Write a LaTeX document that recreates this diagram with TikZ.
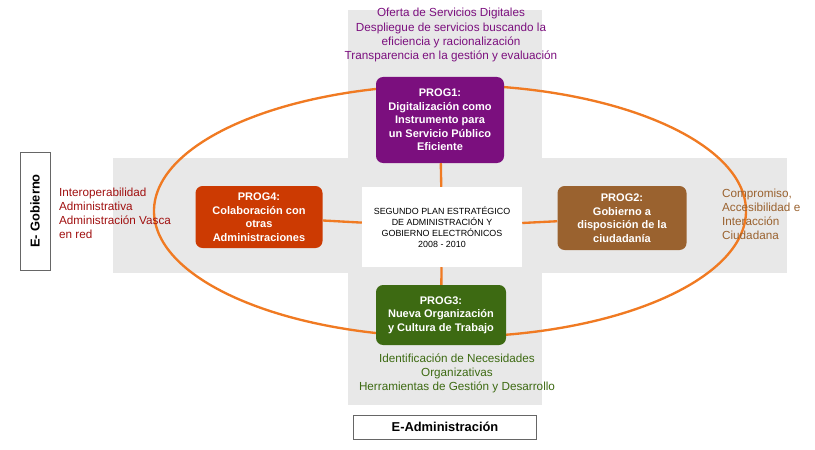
\documentclass[tikz,border=0pt]{standalone}
\usepackage{fontspec}
\setmainfont{Liberation Sans}
\usetikzlibrary{positioning}
\definecolor{prpl}{HTML}{7B0F7E}
\definecolor{brwn}{HTML}{9A622F}
\definecolor{grn}{HTML}{3D6A12}
\definecolor{rdor}{HTML}{CC3A02}
\definecolor{orng}{HTML}{F07A22}
\definecolor{band}{HTML}{E8E8E8}
\definecolor{dred}{HTML}{A01010}
\begin{document}
\begin{tikzpicture}[x=0.03cm, y=-0.03cm,
    prog/.style={rectangle, rounded corners=6pt, text=white, font=\fontsize{9.4}{11.5}\selectfont\bfseries,
      align=center, inner sep=2pt},
    note/.style={font=\fontsize{10}{12}\selectfont, align=center},
    tag/.style={draw=gray!80!black, fill=white, font=\fontsize{11}{13}\selectfont\bfseries, inner sep=2pt},
    link/.style={draw=orng, line width=2pt}]
  \useasboundingbox (0,0) rectangle (815,449);

  % gray cross
  \fill[band] (348,10) rectangle (542,405);
  \fill[band] (113,158) rectangle (787,273);

  % ellipse
  \draw[link] (450,211) ellipse [x radius=296, y radius=126];

  % center
  \node (plan) [fill=white, minimum width=4.8cm, minimum height=2.4cm, align=center,
    font=\fontsize{7.6}{9.5}\selectfont] at (442,227)
    {SEGUNDO PLAN ESTRATÉGICO\\DE ADMINISTRACIÓN Y\\GOBIERNO ELECTRÓNICOS\\2008 - 2010};

  % programmes
  \node (p1) [prog, fill=prpl, minimum width=3.84cm, minimum height=2.58cm] at (440,120)
    {PROG1:\\Digitalización como\\Instrumento para\\un Servicio Público\\Eficiente};
  \node (p2) [prog, fill=brwn, minimum width=3.87cm, minimum height=1.92cm] at (622,218)
    {PROG2:\\Gobierno a\\disposición de la\\ciudadanía};
  \node (p3) [prog, fill=grn, minimum width=3.9cm, minimum height=1.8cm] at (441,315)
    {PROG3:\\Nueva Organización\\y Cultura de Trabajo};
  \node (p4) [prog, fill=rdor, minimum width=3.81cm, minimum height=1.86cm] at (259,217)
    {PROG4:\\Colaboración con\\otras\\Administraciones};

  % links
  \draw[link] (plan) -- (p1);
  \draw[link] (plan) -- (p2);
  \draw[link] (plan) -- (p3);
  \draw[link] (plan) -- (p4);

  % notes
  \node (n1) [note, text=prpl] at (451,35)
    {Oferta de Servicios Digitales\\Despliegue de servicios buscando la\\eficiencia y racionalización\\Transparencia en la gestión y evaluación};
  \node (n2) [note, text=brwn, align=left, anchor=west] at (718,214)
    {Compromiso,\\Accesibilidad e\\Interacción\\Ciudadana};
  \node (n3) [note, text=grn] at (457,373)
    {Identificación de Necesidades\\Organizativas\\Herramientas de Gestión y Desarrollo};
  \node (n4) [note, text=dred, align=left, anchor=west] at (55,213)
    {Interoperabilidad\\Administrativa\\Administración Vasca\\en red};

  % axis tags
  \node (gob) [tag, rotate=90, minimum width=3.54cm, minimum height=0.9cm] at (35,211) {E- Gobierno};
  \node (adm) [tag, minimum width=5.49cm, minimum height=0.72cm] at (445,427) {E-Administración};
\end{tikzpicture}
\end{document}
